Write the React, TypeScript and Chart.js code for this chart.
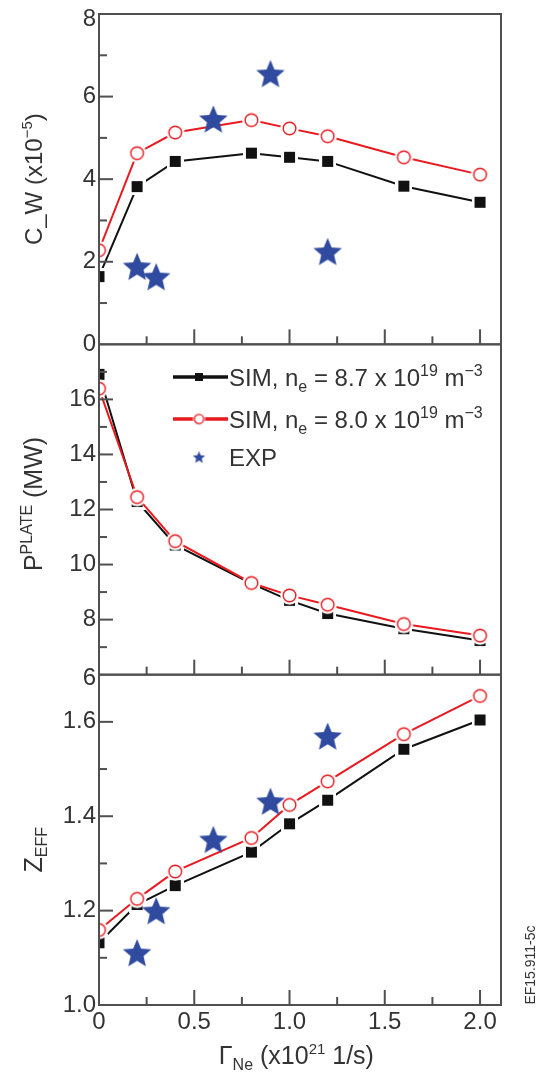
import React, { useEffect, useRef } from 'react';
import { Chart, registerables } from 'chart.js';

Chart.register(...registerables);

// ---------- data ----------
const simX = [0, 0.2, 0.4, 0.8, 1.0, 1.2, 1.6, 2.0];
const cwSim87 = [1.64, 3.82, 4.43, 4.63, 4.53, 4.43, 3.83, 3.44];
const cwSim80 = [2.28, 4.63, 5.13, 5.43, 5.23, 5.04, 4.53, 4.11];
const cwExpX = [0.2, 0.3, 0.6, 0.9, 1.2];
const cwExp = [1.89, 1.64, 5.46, 6.56, 2.25];
const pSim87 = [16.91, 12.29, 10.71, 9.31, 8.7, 8.22, 7.67, 7.24];
const pSim80 = [16.39, 12.45, 10.85, 9.33, 8.88, 8.54, 7.84, 7.42];
const zSim87 = [1.132, 1.213, 1.253, 1.324, 1.384, 1.434, 1.542, 1.604];
const zSim80 = [1.159, 1.225, 1.283, 1.354, 1.424, 1.474, 1.574, 1.655];
const zExpX = [0.2, 0.3, 0.6, 0.9, 1.2];
const zExp = [1.111, 1.2, 1.351, 1.432, 1.57];

const xTickLabels = ['0', '0.5', '1.0', '1.5', '2.0'];
const xMinorTicks = [0.25, 0.75, 1.25, 1.75];
const cwTickLabels = ['0', '2', '4', '6', '8'];
const cwMinorTicks = [1, 3, 5, 7];
const pTickLabels = ['6', '8', '10', '12', '14', '16'];
const pMinorTicks = [7, 9, 11, 13, 15, 17];
const zTickLabels = ['1.0', '1.2', '1.4', '1.6'];
const zMinorTicks = [1.1, 1.3, 1.5];

const FONT = "'Liberation Sans', Arial, Helvetica, sans-serif";
const TEXT = '#333333';
const AXIS = '#505050';
const RED = '#e8191f';
const BLACK = '#111111';
const BLUE = '#2f4a9e';

type Seg = { t: string; sz: number; dy: number };

function drawRich(ctx: CanvasRenderingContext2D, segs: Seg[], x: number, y: number, align: 'left' | 'center') {
  let w = 0;
  for (const s of segs) {
    ctx.font = `${s.sz}px ${FONT}`;
    w += ctx.measureText(s.t).width;
  }
  let cx = align === 'center' ? x - w / 2 : x;
  ctx.textAlign = 'left';
  ctx.textBaseline = 'alphabetic';
  ctx.fillStyle = TEXT;
  for (const s of segs) {
    ctx.font = `${s.sz}px ${FONT}`;
    ctx.fillText(s.t, cx, y + s.dy);
    cx += ctx.measureText(s.t).width;
  }
}

function starPath(g: CanvasRenderingContext2D, cx: number, cy: number, ro: number, ri: number) {
  g.beginPath();
  for (let i = 0; i < 10; i++) {
    const r = i % 2 === 0 ? ro : ri;
    const a = -Math.PI / 2 + (i * Math.PI) / 5;
    const px = cx + r * Math.cos(a);
    const py = cy + r * Math.sin(a);
    if (i === 0) g.moveTo(px, py);
    else g.lineTo(px, py);
  }
  g.closePath();
}

function makeSquare(side: number, halo: number) {
  const c = document.createElement('canvas');
  const s = side + 2 * halo;
  c.width = s;
  c.height = s;
  const g = c.getContext('2d')!;
  if (halo > 0) {
    g.fillStyle = '#ffffff';
    g.fillRect(0, 0, s, s);
  }
  g.fillStyle = BLACK;
  g.fillRect(halo, halo, side, side);
  return c;
}

function makeCircle(r: number, halo: number, lw: number) {
  const c = document.createElement('canvas');
  const s = Math.ceil(2 * (r + halo)) + 2;
  c.width = s;
  c.height = s;
  const g = c.getContext('2d')!;
  g.fillStyle = '#ffffff';
  g.beginPath();
  g.arc(s / 2, s / 2, r + halo, 0, Math.PI * 2);
  g.fill();
  g.beginPath();
  g.arc(s / 2, s / 2, r, 0, Math.PI * 2);
  g.lineWidth = lw;
  g.strokeStyle = RED;
  g.stroke();
  return c;
}

function makeStar(ro: number) {
  const c = document.createElement('canvas');
  const s = Math.ceil(ro * 2) + 4;
  c.width = s;
  c.height = s;
  const g = c.getContext('2d')!;
  starPath(g, s / 2, s / 2 + ro * 0.1, ro, ro * 0.45);
  g.fillStyle = BLUE;
  g.fill();
  return c;
}

export default function App() {
  const ref = useRef<HTMLCanvasElement>(null);

  useEffect(() => {
    const canvas = ref.current!;
    const sq = makeSquare(11, 3);
    const ci = makeCircle(6.3, 3, 1.4);
    const star = makeStar(15);
    const sqL = makeSquare(8, 0);
    const ciL = makeCircle(4.6, 1.5, 1.3);
    const stL = makeStar(6.5);

    const pts = (xs: number[], ys: number[]) => xs.map((x, i) => ({ x, y: ys[i] }));

    const simDs = (xs: number[], ys: number[], axis: string, red: boolean) => ({
      data: pts(xs, ys),
      yAxisID: axis,
      borderColor: red ? RED : BLACK,
      borderWidth: 2,
      pointStyle: red ? ci : sq,
      pointRadius: 6,
      tension: 0,
      order: red ? 1 : 2,
    });
    const expDs = (xs: number[], ys: number[], axis: string) => ({
      data: pts(xs, ys),
      yAxisID: axis,
      showLine: false,
      borderColor: BLUE,
      pointStyle: star,
      pointRadius: 10,
      order: 0,
    });

    const panels = [
      { id: 'yTop', labels: cwTickLabels, minor: cwMinorTicks, lo: 0, hi: 8 },
      { id: 'yMid', labels: pTickLabels, minor: pMinorTicks, lo: 6, hi: 18 },
      { id: 'yBot', labels: zTickLabels, minor: zMinorTicks, lo: 1.0, hi: 1.7 },
    ];

    const framePlugin = {
      id: 'frame',
      afterDraw(chart: any) {
        const ctx: CanvasRenderingContext2D = chart.ctx;
        const xs = chart.scales.x;
        const left = xs.getPixelForValue(0);
        const right = xs.getPixelForValue(2.11);

        // tick labels
        ctx.save();
        ctx.fillStyle = TEXT;
        ctx.font = `24px ${FONT}`;
        ctx.textAlign = 'right';
        ctx.textBaseline = 'middle';
        for (const p of panels) {
          const ys = chart.scales[p.id];
          for (const lab of p.labels) {
            const v = parseFloat(lab);
            let y = ys.getPixelForValue(v);
            if (p.id === 'yTop' && v === p.hi) y += 5;
            if (p.id === 'yMid' && v === p.lo) y += 4;
            ctx.fillText(lab, left - 3, y);
          }
        }
        ctx.textAlign = 'center';
        for (const lab of xTickLabels) {
          ctx.fillText(lab, xs.getPixelForValue(parseFloat(lab)), 1022);
        }
        ctx.restore();

        // axis titles
        ctx.save();
        ctx.translate(42, chart.scales.yTop.getPixelForValue(4.0));
        ctx.rotate(-Math.PI / 2);
        drawRich(ctx, [
          { t: 'C_W (x10', sz: 24, dy: 0 },
          { t: '\u22125', sz: 15, dy: -10 },
          { t: ')', sz: 24, dy: 0 },
        ], 0, 0, 'center');
        ctx.restore();

        ctx.save();
        ctx.translate(42, chart.scales.yMid.getPixelForValue(12.2));
        ctx.rotate(-Math.PI / 2);
        drawRich(ctx, [
          { t: 'P', sz: 25, dy: 0 },
          { t: 'PLATE', sz: 16, dy: -10 },
          { t: ' (MW)', sz: 25, dy: 0 },
        ], 0, 0, 'center');
        ctx.restore();

        ctx.save();
        ctx.translate(42, chart.scales.yBot.getPixelForValue(1.329));
        ctx.rotate(-Math.PI / 2);
        drawRich(ctx, [
          { t: 'Z', sz: 25, dy: 0 },
          { t: 'EFF', sz: 16, dy: 5 },
        ], 0, 0, 'center');
        ctx.restore();

        drawRich(ctx, [
          { t: '\u0393', sz: 25, dy: 0 },
          { t: 'Ne', sz: 16, dy: 6 },
          { t: ' (x10', sz: 25, dy: 0 },
          { t: '21', sz: 15, dy: -10 },
          { t: ' 1/s)', sz: 25, dy: 0 },
        ], xs.getPixelForValue(1.036), 1064, 'center');

        ctx.save();
        ctx.translate(535, 965);
        ctx.rotate(-Math.PI / 2);
        drawRich(ctx, [{ t: 'EF15.911-5c', sz: 14, dy: 0 }], 0, 0, 'center');
        ctx.restore();

        // legend
        const rows = [
          { y: 377, kind: 'black', n: '8.7' },
          { y: 419, kind: 'red', n: '8.0' },
        ];
        for (const r of rows) {
          ctx.save();
          ctx.strokeStyle = r.kind === 'red' ? RED : BLACK;
          ctx.lineWidth = 3.5;
          ctx.beginPath();
          ctx.moveTo(173, r.y);
          ctx.lineTo(228, r.y);
          ctx.stroke();
          const img = r.kind === 'red' ? ciL : sqL;
          ctx.drawImage(img, 199 - img.width / 2, r.y - img.height / 2);
          ctx.restore();
          drawRich(ctx, [
            { t: 'SIM, n', sz: 24, dy: 0 },
            { t: 'e', sz: 16, dy: 6 },
            { t: ` = ${r.n} x 10`, sz: 24, dy: 0 },
            { t: '19', sz: 16, dy: -10 },
            { t: ' m', sz: 24, dy: 0 },
            { t: '\u22123', sz: 16, dy: -10 },
          ], 229, r.y + 9, 'left');
        }
        ctx.drawImage(stL, 199 - stL.width / 2, 457 - stL.height / 2);
        drawRich(ctx, [{ t: 'EXP', sz: 24, dy: 0 }], 229, 466, 'left');

        // frames and inward ticks
        ctx.save();
        for (const p of panels) {
          const ys = chart.scales[p.id];
          const top = ys.getPixelForValue(p.hi);
          const bottom = ys.getPixelForValue(p.lo);
          ctx.fillStyle = AXIS;
          ctx.fillRect(left - 1, top - 1, right - left + 2, 2);
          ctx.fillRect(left - 1, bottom - 1, right - left + 2, 2);
          ctx.fillRect(left - 1, top - 1, 2, bottom - top + 2);
          ctx.fillRect(right - 1, top - 1, 2, bottom - top + 2);
          for (const lab of p.labels) {
            const v = parseFloat(lab);
            if (v === p.lo || v === p.hi) continue;
            const y = ys.getPixelForValue(v);
            ctx.fillRect(left, y - 1, 14, 2);
          }
          for (const v of p.minor) {
            const y = ys.getPixelForValue(v);
            ctx.fillRect(left, y - 1, 8, 2);
          }
          for (const lab of xTickLabels) {
            const v = parseFloat(lab);
            if (v === 0) continue;
            const x = xs.getPixelForValue(v);
            ctx.fillRect(x - 1, bottom - 15, 2, 15);
          }
          for (const v of xMinorTicks) {
            const x = xs.getPixelForValue(v);
            ctx.fillRect(x - 1, bottom - 8, 2, 8);
          }
        }
        ctx.restore();
      },
    };

    const hiddenTicks = { display: false, stepSize: 100 };
    const yCommon = (weight: number) => ({
      type: 'linear' as const,
      position: 'left' as const,
      stack: 'panels',
      stackWeight: 1,
      weight,
      grid: { display: false, drawTicks: false, tickLength: 0 },
      border: { display: false },
      ticks: hiddenTicks,
      afterFit: (s: any) => {
        s.width = 99;
      },
    });

    const chart = new Chart(canvas, {
      type: 'line',
      data: {
        datasets: [
          expDs(cwExpX, cwExp, 'yTop'),
          simDs(simX, cwSim80, 'yTop', true),
          simDs(simX, cwSim87, 'yTop', false),
          simDs(simX, pSim80, 'yMid', true),
          simDs(simX, pSim87, 'yMid', false),
          expDs(zExpX, zExp, 'yBot'),
          simDs(simX, zSim80, 'yBot', true),
          simDs(simX, zSim87, 'yBot', false),
        ] as any,
      },
      options: {
        animation: false,
        responsive: false,
        maintainAspectRatio: false,
        layout: { padding: { top: 14, right: 40, left: 0, bottom: 0 } },
        plugins: { legend: { display: false }, tooltip: { enabled: false } },
        events: [],
        scales: {
          x: {
            type: 'linear',
            position: 'bottom',
            min: 0,
            max: 2.11,
            grid: { display: false, drawTicks: false, tickLength: 0 },
            border: { display: false },
            ticks: hiddenTicks,
            afterFit: (s: any) => {
              s.height = 69;
            },
          },
          yTop: { ...yCommon(3), min: 0, max: 8 },
          yMid: { ...yCommon(2), min: 6, max: 18 },
          yBot: { ...yCommon(1), min: 1.0, max: 1.7 },
        } as any,
      },
      plugins: [framePlugin],
    });
    return () => chart.destroy();
  }, []);

  return (
    <div style={{ position: 'fixed', left: 0, top: 0, width: 541, height: 1074, background: '#fff' }}>
      <canvas ref={ref} width={541} height={1074} style={{ display: 'block', width: 541, height: 1074 }} />
    </div>
  );
}
